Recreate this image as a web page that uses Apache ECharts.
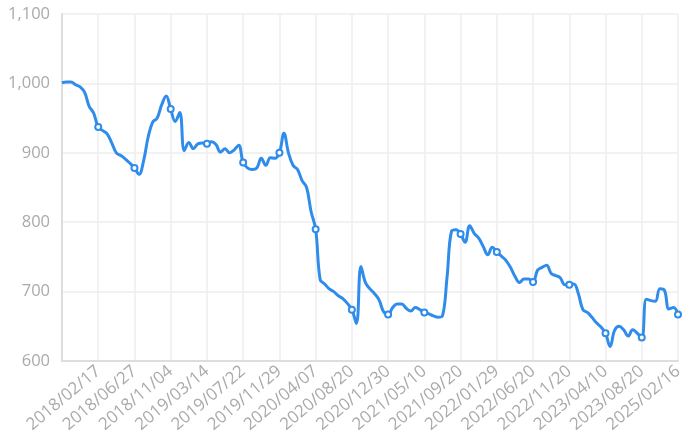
<!DOCTYPE html>
<html>
<head>
<meta charset="utf-8">
<script src="https://cdn.jsdelivr.net/npm/echarts@6/dist/echarts.min.js"></script>
<style>
  html, body { margin: 0; padding: 0; background: #fff; }
  #main { width: 686px; height: 438px; }
</style>
</head>
<body>
<div id="main"></div>
<script>
// dates along the x axis (every 8th one is labelled)
var dates = [
  '2017/10/10','2017/10/26','2017/11/11','2017/11/27','2017/12/13','2017/12/29','2018/01/14','2018/01/31',
  '2018/02/17','2018/03/05','2018/03/21','2018/04/06','2018/04/22','2018/05/08','2018/05/24','2018/06/10',
  '2018/06/27','2018/07/13','2018/07/29','2018/08/14','2018/08/30','2018/09/15','2018/10/01','2018/10/18',
  '2018/11/04','2018/11/20','2018/12/06','2018/12/22','2019/01/07','2019/01/23','2019/02/08','2019/02/25',
  '2019/03/14','2019/03/30','2019/04/15','2019/05/01','2019/05/17','2019/06/02','2019/06/18','2019/07/05',
  '2019/07/22','2019/08/07','2019/08/23','2019/09/08','2019/09/24','2019/10/10','2019/10/26','2019/11/12',
  '2019/11/29','2019/12/15','2019/12/31','2020/01/16','2020/02/01','2020/02/17','2020/03/04','2020/03/21',
  '2020/04/07','2020/04/24','2020/05/11','2020/05/28','2020/06/13','2020/06/29','2020/07/16','2020/08/02',
  '2020/08/20','2020/09/05','2020/09/21','2020/10/08','2020/10/24','2020/11/10','2020/11/26','2020/12/13',
  '2020/12/30','2021/01/15','2021/01/31','2021/02/16','2021/03/05','2021/03/21','2021/04/07','2021/04/23',
  '2021/05/10','2021/05/26','2021/06/12','2021/06/28','2021/07/15','2021/07/31','2021/08/17','2021/09/03',
  '2021/09/20','2021/10/06','2021/10/22','2021/11/08','2021/11/24','2021/12/11','2021/12/27','2022/01/12',
  '2022/01/29','2022/02/15','2022/03/05','2022/03/23','2022/04/09','2022/04/27','2022/05/15','2022/06/02',
  '2022/06/20','2022/07/09','2022/07/28','2022/08/16','2022/09/04','2022/09/23','2022/10/12','2022/10/31',
  '2022/11/20','2022/12/07','2022/12/25','2023/01/11','2023/01/29','2023/02/16','2023/03/06','2023/03/23',
  '2023/04/10','2023/04/26','2023/05/13','2023/05/29','2023/06/15','2023/07/01','2023/07/18','2023/08/03',
  '2023/08/20','2023/09/30','2023/11/15','2024/01/05','2024/03/01','2024/05/10','2024/08/20','2024/11/25',
  '2025/02/16'
];

// values
var values = [
  1001, 1002, 1002, 998, 995, 987, 967, 957,
  937, 932, 927, 914, 900, 896, 891, 885,
  878, 869, 888, 922, 944, 950, 969, 982,
  963, 945, 958, 903, 915, 906, 913, 914,
  913, 916, 912, 901, 906, 900, 904, 911,
  886, 878, 876, 878, 892, 882, 893, 892,
  900, 928, 900, 882, 876, 860, 850, 815,
  790, 717, 711, 704, 700, 694, 690, 683,
  674, 654, 736, 713, 704, 697, 688, 671,
  667, 677, 682, 682, 676, 672, 677, 674,
  670, 668, 665, 663, 665, 720, 787, 789,
  783, 771, 795, 784, 777, 765, 753, 764,
  757, 751, 745, 735, 722, 713, 718, 718,
  714, 731, 735, 738, 726, 723, 720, 710,
  710, 711, 697, 674, 670, 663, 655, 649,
  640, 621, 644, 650, 645, 636, 645, 640,
  634, 689, 687, 686, 704, 702, 675, 677,
  667
];

var labelStep = 8;
var yMin = 600;
var yMax = 1100;
var yStep = 100;

window.onload = function () {
  myChart();
}

function myChart() {
  var chart = echarts.init(document.getElementById('main'));
  var option = {
    animation: false,
    grid: {
      left: 62,
      right: 8,
      top: 14,
      bottom: 77
    },
    xAxis: {
      type: 'category',
      data: dates,
      boundaryGap: false,
      axisLine: { lineStyle: { color: '#dddddd', width: 2 } },
      axisTick: { show: false },
      axisLabel: {
        interval: function (i) { return i > 0 && i % labelStep === 0; },
        rotate: 40,
        margin: 8,
        color: '#aaaaaa',
        fontSize: 17,
        fontFamily: 'Open Sans'
      },
      splitLine: { show: true, lineStyle: { color: '#eeeeee', width: 1.5 } }
    },
    yAxis: {
      type: 'value',
      min: yMin,
      max: yMax,
      interval: yStep,
      axisLine: { show: true, lineStyle: { color: '#dddddd', width: 2 } },
      axisTick: { show: false },
      axisLabel: {
        margin: 12,
        color: '#aaaaaa',
        fontSize: 16.5,
        fontFamily: 'Open Sans'
      },
      splitLine: { lineStyle: { color: '#eeeeee', width: 1.5 } }
    },
    series: [{
      type: 'line',
      data: values,
      smooth: 0.4,
      symbol: 'emptyCircle',
      symbolSize: 6,
      showAllSymbol: 'auto',
      lineStyle: { color: '#2f8ceb', width: 3 },
      itemStyle: { color: '#2f8ceb', borderWidth: 1.5 }
    }]
  };
  chart.setOption(option);
}
</script>
</body>
</html>
